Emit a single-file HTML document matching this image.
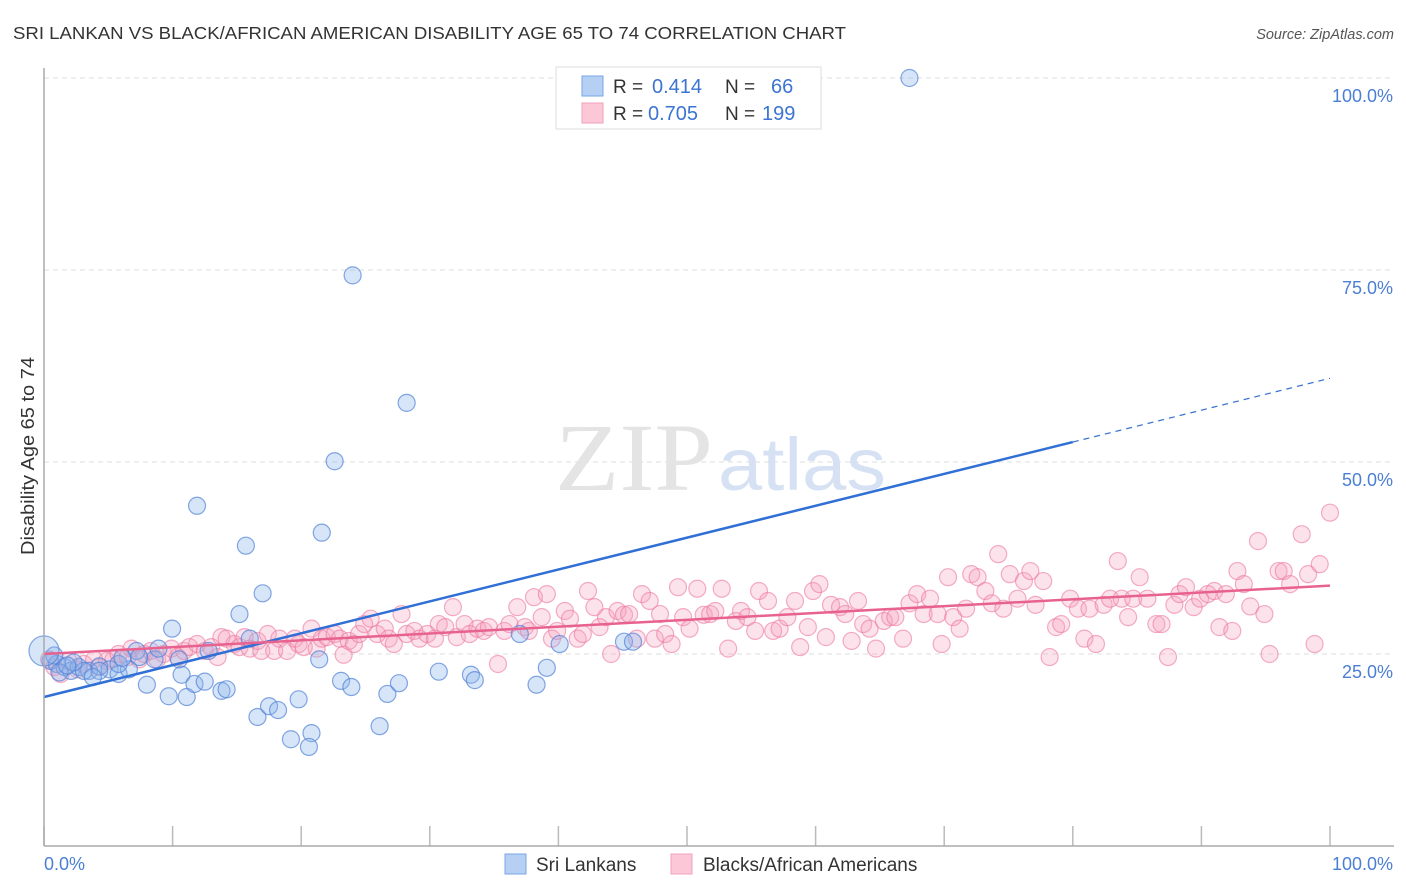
<!DOCTYPE html>
<html><head><meta charset="utf-8">
<style>
body{margin:0;background:#fff;font-family:"Liberation Sans",sans-serif;}
svg{display:block}
</style></head>
<body>
<svg id="chart" width="1406" height="892">
<text x="13" y="39" font-size="17.5" fill="#333" textLength="833" lengthAdjust="spacingAndGlyphs">SRI LANKAN VS BLACK/AFRICAN AMERICAN DISABILITY AGE 65 TO 74 CORRELATION CHART</text>
<text x="1394" y="39" font-size="14.5" fill="#555" font-style="italic" text-anchor="end">Source: ZipAtlas.com</text>
<text x="34" y="456" font-size="18" fill="#333" text-anchor="middle" textLength="198" lengthAdjust="spacingAndGlyphs" transform="rotate(-90 34 456)">Disability Age 65 to 74</text>
<g id="grid"></g>
<text x="555" y="490" font-size="96" fill="#e4e4e4" font-family="Liberation Serif,serif" textLength="158" lengthAdjust="spacingAndGlyphs">ZIP</text>
<text x="718" y="490" font-size="74" fill="#d6e2f4" textLength="168" lengthAdjust="spacingAndGlyphs">atlas</text>
<g id="marks"></g>
<line x1="44" y1="68" x2="44" y2="846" stroke="#aaa" stroke-width="1.5"/>
<line x1="44" y1="846" x2="1394" y2="846" stroke="#aaa" stroke-width="1.5"/>
<text x="44" y="870" font-size="18" fill="#4a7fd4">0.0%</text>
<text x="1393" y="870" font-size="18" fill="#4a7fd4" text-anchor="end">100.0%</text>
<g>
<rect x="556" y="67" width="265" height="62" fill="#fff" stroke="#ddd"/>
<rect x="582" y="76" width="21" height="20" fill="#b6d0f4" stroke="#7aa6e6"/>
<rect x="582" y="103" width="21" height="20" fill="#fcc8d8" stroke="#f0a0bb"/>
<text x="613" y="93" font-size="19" fill="#333">R =</text>
<text x="652" y="93" font-size="20" fill="#3b74d1">0.414</text>
<text x="725" y="93" font-size="19" fill="#333">N =</text>
<text x="771" y="93" font-size="20" fill="#3b74d1">66</text>
<text x="613" y="120" font-size="19" fill="#333">R =</text>
<text x="648" y="120" font-size="20" fill="#3b74d1">0.705</text>
<text x="725" y="120" font-size="19" fill="#333">N =</text>
<text x="762" y="120" font-size="20" fill="#3b74d1">199</text>
</g>
<g>
<rect x="505" y="854" width="21" height="20" fill="#b6d0f4" stroke="#7aa6e6"/>
<text x="536" y="871" font-size="19" fill="#333">Sri Lankans</text>
<rect x="671" y="854" width="21" height="20" fill="#fcc8d8" stroke="#f0a0bb"/>
<text x="703" y="871" font-size="19" fill="#333">Blacks/African Americans</text>
</g>
</svg>
<script>
const blueX=[67.3,24.0,28.2,22.6,11.9,21.6,15.7,17.0,15.2,9.96,0.5,1.0,1.6,2.1,2.7,3.5,4.3,5.1,5.8,6.6,7.2,8.0,8.6,9.7,10.7,11.1,11.7,12.5,12.8,13.8,14.2,16.0,16.6,17.5,18.2,19.2,19.8,20.8,20.6,21.4,23.1,23.9,26.1,26.7,27.6,30.7,33.2,33.5,37.0,38.3,39.1,40.1,45.1,45.8,10.5,8.9,7.4,5.8,4.3,3.1,2.3,1.2,0.8,1.8,3.8,6.1];
const blueY=[100,74.3,57.7,50.1,44.3,40.8,39.1,32.9,30.2,28.3,24.1,23.7,23.3,22.8,23.3,22.8,23.4,23.0,22.4,23.0,25.4,21.0,24.3,19.5,22.3,19.4,21.1,21.4,25.4,20.2,20.4,27.0,16.8,18.2,17.7,13.9,19.1,14.7,12.9,24.3,21.5,20.7,15.6,19.8,21.2,22.7,22.3,21.6,27.6,21.0,23.2,26.3,26.6,26.6,24.3,25.7,24.6,23.7,22.8,22.8,23.9,22.6,24.8,23.5,22.0,24.5];
const pinkX=[0.4,0.8,1.3,1.9,2.6,3.1,3.9,4.3,4.9,5.4,5.8,6.5,6.8,7.4,7.8,8.3,8.8,9.3,9.9,10.4,10.9,11.3,11.9,12.5,13.0,13.5,13.8,14.2,14.8,15.2,15.6,16.0,16.6,16.9,17.4,17.9,18.3,18.9,19.5,19.8,20.2,20.8,21.2,21.6,22.0,22.6,23.0,23.3,23.7,24.1,24.5,24.9,25.4,25.9,26.5,26.8,27.2,27.8,28.2,28.8,29.2,29.8,30.4,30.7,31.2,31.8,32.1,32.7,33.1,33.7,34.2,34.6,35.3,35.8,36.2,36.8,37.4,37.7,38.1,38.7,39.1,39.5,39.9,40.5,40.9,41.5,41.9,42.3,42.8,43.2,43.7,44.1,44.6,45.1,45.5,46.1,46.5,47.1,47.5,47.9,48.3,48.8,49.3,49.7,50.2,50.8,51.3,51.8,52.2,52.7,53.2,53.8,54.2,54.7,55.3,55.6,56.3,56.7,57.2,57.8,58.4,58.8,59.4,59.8,60.3,60.8,61.2,61.9,62.3,62.8,63.3,63.7,64.2,64.7,65.3,65.8,66.2,66.8,67.3,67.9,68.4,68.9,69.5,69.8,70.3,70.7,71.2,71.7,72.1,72.6,73.2,73.7,74.2,74.6,75.1,75.7,76.2,76.7,77.1,77.7,78.2,78.7,79.1,79.8,80.4,80.9,81.3,81.8,82.4,82.9,83.5,83.8,84.3,84.7,85.2,85.8,86.5,86.9,87.4,87.9,88.3,88.8,89.4,89.9,90.5,91.0,91.4,91.9,92.4,92.8,93.3,93.8,94.4,94.9,95.3,96.0,96.4,96.9,97.8,98.3,98.8,99.2,100];
const pinkY=[24.3,23.3,22.4,24.1,23.0,23.7,24.3,23.3,24.1,24.3,25.0,24.6,25.7,24.3,25.0,25.4,24.3,25.0,25.7,24.6,25.4,25.9,26.3,25.4,25.9,24.6,27.2,27.0,26.3,25.9,27.2,25.7,26.7,25.4,27.6,25.4,27.0,25.4,27.0,26.3,25.9,28.3,25.7,27.0,27.2,27.6,27.0,24.9,26.7,26.3,27.6,28.9,29.6,27.6,28.3,27.0,26.3,30.2,27.6,28.0,27.0,27.6,27.0,28.9,28.5,31.1,27.2,28.9,27.6,28.3,28.0,28.5,23.7,28.0,28.9,31.1,28.5,28.0,32.4,29.8,32.8,27.0,28.0,30.6,29.6,27.0,27.6,33.2,31.1,28.5,29.8,25.0,30.6,30.1,30.2,27.0,32.8,31.9,27.0,30.2,27.6,26.3,33.7,29.8,28.3,33.5,30.1,30.2,30.6,33.5,25.7,29.3,30.6,29.8,28.0,33.2,31.9,28.0,28.3,29.8,31.9,25.9,28.5,33.2,34.1,27.2,31.4,31.1,30.2,26.7,31.9,28.9,28.3,25.7,29.3,29.8,29.8,27.0,31.6,32.8,30.2,32.2,30.2,26.3,35.0,29.8,28.3,30.9,35.4,35.0,33.2,31.6,38.0,30.9,35.4,32.2,34.5,35.8,31.4,34.5,24.6,28.5,28.9,32.2,30.9,27.0,30.9,26.3,31.4,32.2,37.1,32.2,29.8,32.2,35.0,32.2,28.9,28.9,24.6,31.4,32.8,33.7,31.1,32.2,32.8,33.2,28.5,32.8,28.0,35.8,34.1,31.2,39.7,30.2,25.0,35.8,35.8,34.1,40.6,35.4,26.3,36.7,43.4];
const yTicks=[100,75,50,25];
const yTickLabels=["100.0%","75.0%","50.0%","25.0%"];
const xTicks=[0,10,20,30,40,50,60,70,80,90,100];
const blueTrend=[19.4,60.9];
const blueSolidEnd=80;
const pinkTrend=[25.0,33.9];

const NS="http://www.w3.org/2000/svg";
const X=v=>44+v*12.86;
const Y=v=>846-v*7.68;
function mk(tag,attrs,parent){const e=document.createElementNS(NS,tag);for(const k in attrs)e.setAttribute(k,attrs[k]);parent.appendChild(e);return e;}
const grid=document.getElementById('grid'),marks=document.getElementById('marks');
yTicks.forEach((t,i)=>{
  const l=mk('line',{x1:44,x2:1394,y1:Y(t),y2:Y(t),stroke:'#ddd','stroke-dasharray':'5,4'},grid);
  
  
  const tx=mk('text',{x:1393,y:Y(t)+24,'font-size':18,fill:'#4a7fd4','text-anchor':'end'},grid);
  tx.textContent=yTickLabels[i];
  
  
});
xTicks.forEach(t=>{
  const l=mk('line',{x1:X(t),x2:X(t),y1:826,y2:846,stroke:'#bbb','stroke-width':1.5},grid);
  
  
});
pinkX.forEach((x,i)=>{
  const c=mk('circle',{cx:X(x),cy:Y(pinkY[i]),r:8.5,fill:'rgba(244,160,188,0.3)',stroke:'rgba(236,120,160,0.6)','stroke-width':1.2},marks);
  
  
});
blueX.forEach((x,i)=>{
  const c=mk('circle',{cx:X(x),cy:Y(blueY[i]),r:8.5,fill:'rgba(140,180,236,0.35)',stroke:'rgba(80,130,215,0.7)','stroke-width':1.2},marks);
  
  
});
const big=mk('circle',{cx:X(0),cy:Y(25.4),r:15,fill:'rgba(140,180,236,0.35)',stroke:'rgba(80,130,215,0.7)','stroke-width':1.2},marks);


const by=x=>blueTrend[0]+(blueTrend[1]-blueTrend[0])*x/100;
const bl=mk('line',{x1:X(0),y1:Y(by(0)),x2:X(blueSolidEnd),y2:Y(by(blueSolidEnd)),stroke:'#2f6fd6','stroke-width':2.5},marks);


const bd=mk('line',{x1:X(blueSolidEnd),y1:Y(by(blueSolidEnd)),x2:X(100),y2:Y(by(100)),stroke:'#2f6fd6','stroke-width':1.2,'stroke-dasharray':'6,5'},marks);


const pl=mk('line',{x1:X(0),y1:Y(pinkTrend[0]),x2:X(100),y2:Y(pinkTrend[1]),stroke:'#e8628f','stroke-width':2.5},marks);


</script>
</body></html>
